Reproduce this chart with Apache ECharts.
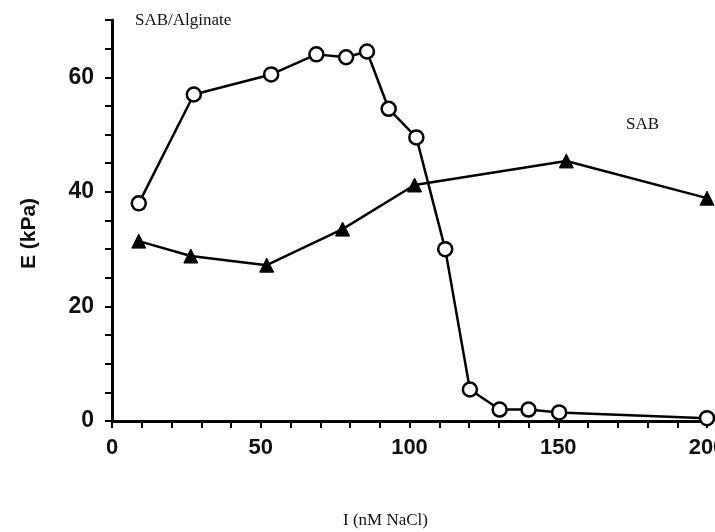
<!DOCTYPE html>
<html><head><meta charset="utf-8">
<script src="https://cdn.jsdelivr.net/npm/echarts@6/dist/echarts.min.js"></script>
<style>html,body{margin:0;padding:0;background:#fff}#c{width:715px;height:532px}</style>
</head><body><div id="c"></div>
<script>
const alginateX = [9, 27.5, 53.5, 68.7, 78.7, 85.7, 93, 102.3, 112, 120.3, 130.3, 140, 150.3, 200];
const alginateY = [38, 57, 60.5, 64, 63.5, 64.5, 54.5, 49.5, 30, 5.5, 2, 2, 1.5, 0.5];
const sabX = [9, 26.5, 52, 77.5, 101.7, 152.7, 200];
const sabY = [31.4, 28.8, 27.2, 33.5, 41.2, 45.4, 38.9];
const xTickLabels = [0, 50, 100, 150, 200];
const yTickLabels = [0, 20, 40, 60];
const seriesNames = ['SAB/Alginate', 'SAB'];

const chart = echarts.init(document.getElementById('c'));
const pairs = (xs, ys) => xs.map((x, i) => [x, ys[i]]);
chart.setOption({
  animation: false,
  grid: {left: 112, right: 8, top: 20, bottom: 111, outerBoundsMode: 'none', containLabel: false},
  xAxis: {
    type: 'value', min: 0, max: 200, interval: 10,
    name: 'I (nM NaCl)', nameLocation: 'middle', nameGap: 91,
    nameTextStyle: {fontFamily: 'Liberation Serif', fontSize: 17, color: '#111', padding: [0, 48, 0, 0]},
    axisLine: {show: true, lineStyle: {color: '#000', width: 3}},
    axisTick: {show: true, inside: false, length: 7, lineStyle: {color: '#000', width: 2}},
    axisLabel: {
      margin: 16, fontFamily: 'Liberation Sans', fontWeight: 'bold', fontSize: 22, color: '#111',
      formatter: v => xTickLabels.includes(v) ? String(v) : ''
    },
    splitLine: {show: false}
  },
  yAxis: {
    type: 'value', min: 0, max: 70, interval: 5,
    name: 'E (kPa)', nameLocation: 'middle', nameGap: 72,
    nameTextStyle: {fontFamily: 'Liberation Sans', fontWeight: 'bold', fontSize: 21, color: '#111', padding: [0, 26, 0, 0]},
    axisLine: {show: true, lineStyle: {color: '#000', width: 3}},
    axisTick: {show: true, inside: false, length: 7, lineStyle: {color: '#000', width: 2}},
    axisLabel: {
      margin: 18, fontFamily: 'Liberation Sans', fontWeight: 'bold', fontSize: 23, color: '#111',
      formatter: v => yTickLabels.includes(v) ? String(v) : ''
    },
    splitLine: {show: false}
  },
  series: [
    {
      name: seriesNames[0], type: 'line', data: pairs(alginateX, alginateY),
      symbol: 'circle', symbolSize: 14,
      lineStyle: {color: '#000', width: 2.5},
      itemStyle: {color: '#fff', borderColor: '#000', borderWidth: 2.5},
      z: 3
    },
    {
      name: seriesNames[1], type: 'line', data: pairs(sabX, sabY),
      symbol: 'triangle', symbolSize: 14,
      lineStyle: {color: '#000', width: 2.5},
      itemStyle: {color: '#000', borderColor: '#000', borderWidth: 1},
      z: 2
    }
  ],
  graphic: [
    {type: 'text', left: 135, top: 12, style: {text: seriesNames[0], fontFamily: 'Liberation Serif', fontSize: 17, fill: '#111'}},
    {type: 'text', left: 626, top: 116, style: {text: seriesNames[1], fontFamily: 'Liberation Serif', fontSize: 17, fill: '#111'}}
  ]
});
</script></body></html>
